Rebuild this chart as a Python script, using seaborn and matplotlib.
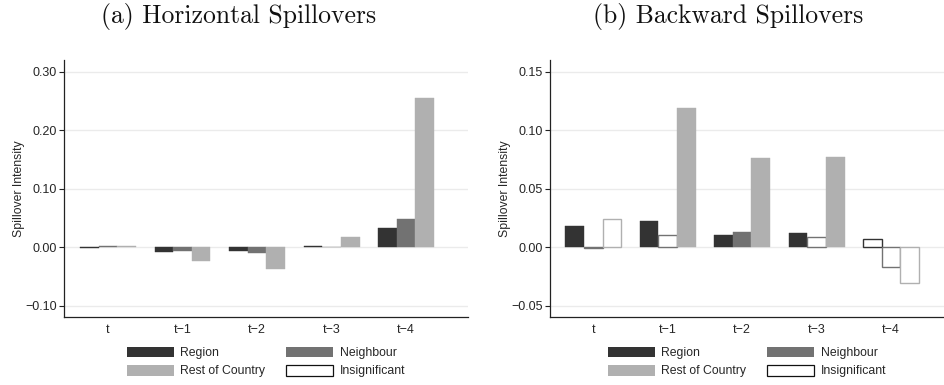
import numpy as np
import pandas as pd
import matplotlib
matplotlib.use("Agg")
import matplotlib.pyplot as plt
from matplotlib.patches import Patch
from matplotlib.ticker import FuncFormatter
import seaborn as sns

# ---------------- data ----------------
lags = ["t", "t\u22121", "t\u22122", "t\u22123", "t\u22124"]
series = ["Region", "Neighbour", "Rest of Country"]

horiz_region = [-0.0015, -0.0085, -0.006, 0.002, 0.033]
horiz_neighbour = [0.0015, -0.0055, -0.010, 0.001, 0.048]
horiz_rest = [0.002, -0.023, -0.0376, 0.0177, 0.255]
horiz_region_sig = [1, 1, 1, 1, 1]
horiz_neighbour_sig = [1, 1, 1, 1, 1]
horiz_rest_sig = [1, 1, 1, 1, 1]

back_region = [0.0185, 0.0222, 0.0103, 0.0120, 0.0068]
back_neighbour = [-0.0005, 0.0105, 0.0128, 0.0086, -0.0165]
back_rest = [0.0245, 0.1190, 0.0764, 0.0776, -0.0305]
back_region_sig = [1, 1, 1, 1, 0]
back_neighbour_sig = [0, 0, 1, 0, 0]
back_rest_sig = [0, 1, 1, 1, 0]

horiz_ticks = [-0.10, 0.00, 0.10, 0.20, 0.30]
back_ticks = [-0.05, 0.00, 0.05, 0.10, 0.15]

titles = ["(a) Horizontal Spillovers", "(b) Backward Spillovers"]
ylabel = "Spillover Intensity"
legend_labels = ["Region", "Neighbour", "Rest of Country", "Insignificant"]

colors = ["#333333", "#727272", "#b0b0b0"]

# ---------------- style ----------------
sns.set_theme(style="white")
plt.rcParams["font.family"] = ["Liberation Sans", "DejaVu Sans"]

fig = plt.figure(figsize=(9.45, 3.85), dpi=100)
W, H = 945, 385


def add_ax(x0, x1, y0, y1):
    return fig.add_axes([x0 / W, 1 - y1 / H, (x1 - x0) / W, (y1 - y0) / H])


ax_l = add_ax(64, 468, 60, 317)
ax_r = add_ax(550, 944, 60, 317)


def make_df(vals_list):
    rows = []
    for s, vals in zip(series, vals_list):
        for lag, v in zip(lags, vals):
            rows.append({"lag": lag, "series": s, "value": v})
    return pd.DataFrame(rows)


def draw(ax, vals_list, sig_list, ticks, ylim, xlim, title, title_x):
    df = make_df(vals_list)
    sns.barplot(data=df, x="lag", y="value", hue="series", order=lags,
                hue_order=series, palette=colors, saturation=1, width=0.75,
                errorbar=None, legend=False, ax=ax, zorder=3)
    for cont, sig, col in zip(ax.containers, sig_list, colors):
        for bar, s in zip(cont.patches, sig):
            if s:
                bar.set_facecolor(col)
                bar.set_edgecolor(col)
                bar.set_linewidth(0.3)
            else:
                bar.set_facecolor("white")
                bar.set_edgecolor(col)
                bar.set_linewidth(1.0)
    ax.set_ylim(*ylim)
    ax.set_xlim(*xlim)
    ax.set_yticks(ticks)
    ax.yaxis.set_major_formatter(
        FuncFormatter(lambda v, p: f"{v:.2f}".replace("-", "\u2212")))
    ax.set_axisbelow(True)
    ax.yaxis.grid(True, color="#ebebeb", lw=1.0)
    ax.xaxis.grid(False)
    for sp in ["top", "right"]:
        ax.spines[sp].set_visible(False)
    for sp in ["left", "bottom"]:
        ax.spines[sp].set_color("#222222")
        ax.spines[sp].set_linewidth(0.9)
    ax.tick_params(axis="y", direction="out", length=3.4, width=0.8,
                   color="#222222", labelsize=9, pad=2, left=True)
    ax.tick_params(axis="x", length=0, labelsize=9, pad=5)
    ax.set_xlabel("")
    ax.set_ylabel(ylabel, fontsize=8.8, labelpad=0)
    handles = [Patch(facecolor=colors[0], edgecolor="none"),
               Patch(facecolor=colors[1], edgecolor="none"),
               Patch(facecolor=colors[2], edgecolor="none"),
               Patch(facecolor="white", edgecolor="#111111", linewidth=0.9)]
    # order so that ncol=2 fills rows: Region, Neighbour / Rest, Insignificant
    order = [0, 2, 1, 3]
    ax.legend([handles[i] for i in order], [legend_labels[i] for i in order],
              ncol=2, loc="upper center", bbox_to_anchor=(0.5, -0.115),
              frameon=False, fontsize=8.8, handlelength=3.85,
              handleheight=1.0, handletextpad=0.55, columnspacing=1.7,
              labelspacing=0.45, borderpad=0, borderaxespad=0)
    fig.text(title_x / W, 1 - 16 / H, title, family="cmr10", fontsize=18.5,
             ha="center", va="center", color="#111111")


draw(ax_l, [horiz_region, horiz_neighbour, horiz_rest],
     [horiz_region_sig, horiz_neighbour_sig, horiz_rest_sig],
     horiz_ticks, (-0.1191, 0.3202), (-0.59, 4.83), titles[0], 239)
draw(ax_r, [back_region, back_neighbour, back_rest],
     [back_region_sig, back_neighbour_sig, back_rest_sig],
     back_ticks, (-0.0596, 0.1601), (-0.58, 4.71), titles[1], 728)

fig.savefig("out.png", dpi=100)
